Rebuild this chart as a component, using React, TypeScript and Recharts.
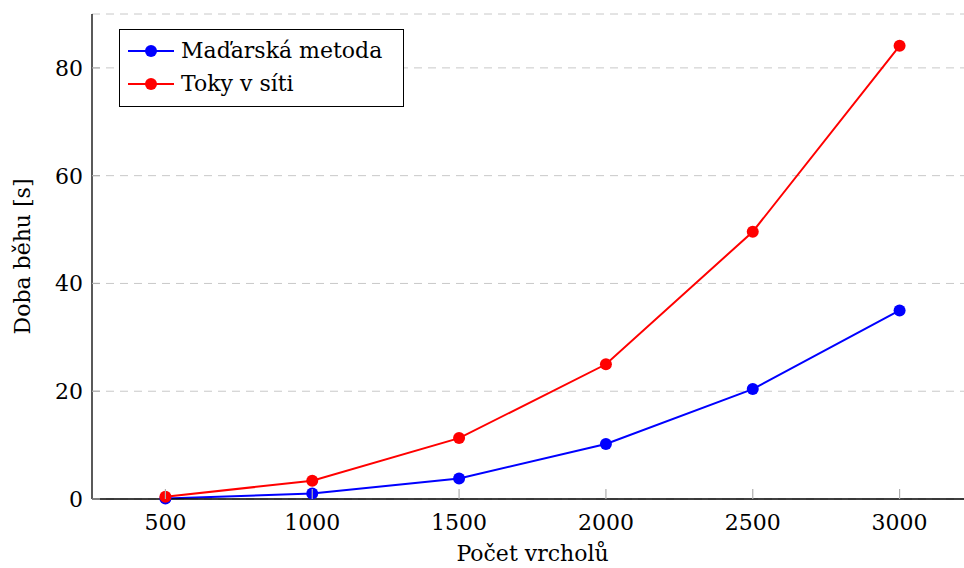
import React from "react";
import { LineChart, Line, XAxis, YAxis, CartesianGrid, Legend } from "recharts";

const vertices = [500, 1000, 1500, 2000, 2500, 3000];
const madarska = [0.1, 1.0, 3.8, 10.2, 20.4, 35.0];
const toky = [0.4, 3.4, 11.3, 25.0, 49.6, 84.1];
const xTicks = [500, 1000, 1500, 2000, 2500, 3000];
const yTicks = [0, 20, 40, 60, 80];
const seriesNames = ["Maďarská metoda", "Toky v síti"];
const xLabel = "Počet vrcholů";
const yLabel = "Doba běhu [s]";

const data = vertices.map((v, i) => ({ n: v, madarska: madarska[i], toky: toky[i] }));

const FONT = "'DejaVu Serif', serif";
const FS = 22;

const BottomTick = (props: any) => {
  const { x, y, payload } = props;
  return (
    <g>
      <line x1={x} y1={y} x2={x} y2={y - 10} stroke="#b0b0b0" strokeWidth={1.2} />
      <text x={x} y={y + 31} textAnchor="middle" fontFamily={FONT} fontSize={FS} fill="#000">
        {payload.value}
      </text>
    </g>
  );
};

const TopTick = (props: any) => {
  const { x, y } = props;
  return <line x1={x} y1={y} x2={x} y2={y + 10} stroke="#b0b0b0" strokeWidth={1.2} />;
};

const LeftTick = (props: any) => {
  const { x, y, payload } = props;
  return (
    <g>
      <line x1={x} y1={y} x2={x + 8} y2={y} stroke="#b0b0b0" strokeWidth={1.2} />
      <text x={x - 9} y={y} dy="0.36em" textAnchor="end" fontFamily={FONT} fontSize={FS} fill="#000">
        {payload.value}
      </text>
    </g>
  );
};

const LegendBox = (props: any) => {
  const payload = props.payload || [];
  return (
    <svg width={286} height={79} style={{ display: "block" }}>
      <rect x={0.5} y={0.5} width={284} height={77} fill="#fff" stroke="#000" strokeWidth={1} />
      {payload.map((p: any, i: number) => {
        const cy = 22 + i * 33;
        return (
          <g key={i}>
            <line x1={9} y1={cy} x2={55} y2={cy} stroke={p.color} strokeWidth={2} />
            <circle cx={32} cy={cy} r={6} fill={p.color} />
            <text x={62} y={cy} dy="0.34em" fontFamily={FONT} fontSize={FS} fill="#000">
              {p.value}
            </text>
          </g>
        );
      })}
    </svg>
  );
};

export default function App() {
  return (
    <div style={{ position: "absolute", left: 0, top: 0, width: 964, height: 568, overflow: "hidden", background: "#fff" }}>
      <LineChart width={1000} height={568} data={data} margin={{ top: 14, right: 27, bottom: 0, left: 0 }}>
        <CartesianGrid horizontal vertical={false} stroke="#c8c8c8" strokeDasharray="8 6" />
        <XAxis
          dataKey="n"
          type="number"
          domain={[250, 3250]}
          ticks={xTicks}
          height={69}
          tickSize={0}
          tickMargin={0}
          tickLine={false}
          axisLine={{ stroke: "#000", strokeWidth: 1.3 }}
          tick={<BottomTick />}
          label={{
            content: (p: any) => {
              const vb = p.viewBox || {};
              return (
                <text x={vb.x + vb.width / 2} y={561} textAnchor="middle" fontFamily={FONT} fontSize={FS} fill="#000">
                  {xLabel}
                </text>
              );
            },
          }}
        />
        <XAxis
          xAxisId="top"
          dataKey="n"
          type="number"
          orientation="top"
          domain={[250, 3250]}
          ticks={xTicks}
          height={0}
          tickSize={0}
          tickMargin={0}
          tickLine={false}
          axisLine={{ stroke: "#444", strokeWidth: 1.3 }}
          tick={<TopTick />}
        />
        <YAxis
          type="number"
          domain={[0, 90]}
          ticks={yTicks}
          width={92}
          tickSize={0}
          tickMargin={0}
          tickLine={false}
          axisLine={{ stroke: "#000", strokeWidth: 1.3 }}
          tick={<LeftTick />}
          label={{
            content: (p: any) => {
              const vb = p.viewBox || {};
              const cy = vb.y + vb.height / 2;
              return (
                <text x={22} y={cy} transform={`rotate(-90 22 ${cy})`} dy="0.35em" textAnchor="middle" fontFamily={FONT} fontSize={FS} fill="#000">
                  {yLabel}
                </text>
              );
            },
          }}
        />
        <Legend
          layout="horizontal"
          verticalAlign="middle"
          align="center"
          content={<LegendBox />}
          wrapperStyle={{ position: "absolute", left: 119, top: 29, width: 286, height: 79 }}
        />
        <Line
          dataKey="madarska"
          name={seriesNames[0]}
          stroke="#0000ff"
          strokeWidth={2}
          dot={{ r: 6, fill: "#0000ff", stroke: "#0000ff", strokeWidth: 0 }}
          activeDot={false}
          isAnimationActive={false}
        />
        <Line
          dataKey="toky"
          name={seriesNames[1]}
          stroke="#ff0000"
          strokeWidth={2}
          dot={{ r: 6, fill: "#ff0000", stroke: "#ff0000", strokeWidth: 0 }}
          activeDot={false}
          isAnimationActive={false}
        />
      </LineChart>
    </div>
  );
}
